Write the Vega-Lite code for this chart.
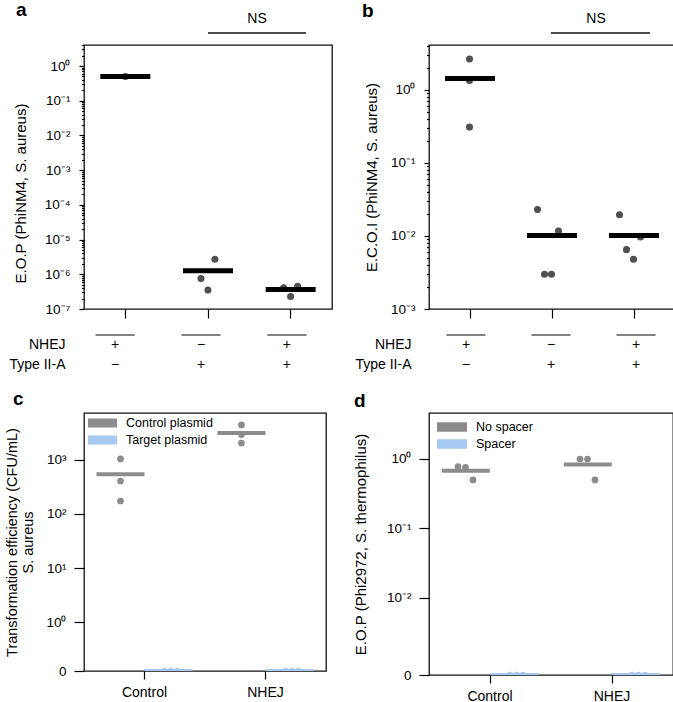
{
  "$schema": "https://vega.github.io/schema/vega-lite/v6.json",
  "autosize": {"type": "pad"},
  "padding": {"left": 3, "top": 0, "right": 0, "bottom": 0},
  "background": "white",
  "config": {
    "font": "Liberation Sans",
    "view": {"stroke": "#111111", "strokeWidth": 1.3},
    "axis": {"labelFont": "Liberation Sans", "titleFont": "Liberation Sans", "labelColor": "black", "titleColor": "black", "tickColor": "black", "tickWidth": 1.2, "titleFontWeight": "normal", "grid": false, "labelFontSize": 13.5, "titleFontSize": 15, "domain": false, "labelOverlap": false, "labelFlush": false, "labelBound": false},
    "legend": {"labelFont": "Liberation Sans", "labelColor": "black"},
    "title": {"font": "Liberation Sans", "color": "black", "fontWeight": "bold", "fontSize": 19, "anchor": "start", "frame": "group", "baseline": "alphabetic"},
    "text": {"font": "Liberation Sans"}
  },
  "datasets": {
    "panelA": [
      {"group": "NHEJ+/TypeIIA-", "rep": 2, "value": 0.5},
      {"group": "NHEJ-/TypeIIA+", "rep": 3, "value": 2.7e-6},
      {"group": "NHEJ-/TypeIIA+", "rep": 1, "value": 7.6e-7},
      {"group": "NHEJ-/TypeIIA+", "rep": 2, "value": 3.5e-7},
      {"group": "NHEJ+/TypeIIA+", "rep": 1, "value": 4.1e-7},
      {"group": "NHEJ+/TypeIIA+", "rep": 3, "value": 4.5e-7},
      {"group": "NHEJ+/TypeIIA+", "rep": 2, "value": 2.3e-7}
    ],
    "panelB": [
      {"group": "NHEJ+/TypeIIA-", "rep": 3, "value": 2.66},
      {"group": "NHEJ+/TypeIIA-", "rep": 3, "value": 1.35},
      {"group": "NHEJ+/TypeIIA-", "rep": 3, "value": 0.31},
      {"group": "NHEJ-/TypeIIA+", "rep": 1, "value": 0.023},
      {"group": "NHEJ-/TypeIIA+", "rep": 2, "value": 0.003},
      {"group": "NHEJ-/TypeIIA+", "rep": 3, "value": 0.003},
      {"group": "NHEJ-/TypeIIA+", "rep": 4, "value": 0.0117},
      {"group": "NHEJ+/TypeIIA+", "rep": 1, "value": 0.0195},
      {"group": "NHEJ+/TypeIIA+", "rep": 2, "value": 0.0065},
      {"group": "NHEJ+/TypeIIA+", "rep": 3, "value": 0.0048},
      {"group": "NHEJ+/TypeIIA+", "rep": 4, "value": 0.0097}
    ],
    "genotype": [
      {"group": "NHEJ+/TypeIIA-", "factor": "NHEJ", "sign": "+"},
      {"group": "NHEJ+/TypeIIA-", "factor": "Type II-A", "sign": "−"},
      {"group": "NHEJ-/TypeIIA+", "factor": "NHEJ", "sign": "−"},
      {"group": "NHEJ-/TypeIIA+", "factor": "Type II-A", "sign": "+"},
      {"group": "NHEJ+/TypeIIA+", "factor": "NHEJ", "sign": "+"},
      {"group": "NHEJ+/TypeIIA+", "factor": "Type II-A", "sign": "+"}
    ],
    "ns": [
      {"from": "NHEJ-/TypeIIA+", "to": "NHEJ+/TypeIIA+", "label": "NS"}
    ],
    "panelC": [
      {"strain": "Control", "plasmid": "Control plasmid", "rep": 1, "value": 1045},
      {"strain": "Control", "plasmid": "Control plasmid", "rep": 2, "value": 408},
      {"strain": "Control", "plasmid": "Control plasmid", "rep": 3, "value": 174},
      {"strain": "NHEJ", "plasmid": "Control plasmid", "rep": 1, "value": 4460},
      {"strain": "NHEJ", "plasmid": "Control plasmid", "rep": 2, "value": 2960},
      {"strain": "NHEJ", "plasmid": "Control plasmid", "rep": 3, "value": 2060},
      {"strain": "Control", "plasmid": "Target plasmid", "rep": 1, "value": 0},
      {"strain": "Control", "plasmid": "Target plasmid", "rep": 2, "value": 0},
      {"strain": "Control", "plasmid": "Target plasmid", "rep": 3, "value": 0},
      {"strain": "NHEJ", "plasmid": "Target plasmid", "rep": 1, "value": 0},
      {"strain": "NHEJ", "plasmid": "Target plasmid", "rep": 2, "value": 0},
      {"strain": "NHEJ", "plasmid": "Target plasmid", "rep": 3, "value": 0}
    ],
    "panelD": [
      {"strain": "Control", "plasmid": "No spacer", "rep": 1, "value": 0.78},
      {"strain": "Control", "plasmid": "No spacer", "rep": 2, "value": 0.76},
      {"strain": "Control", "plasmid": "No spacer", "rep": 3, "value": 0.5},
      {"strain": "NHEJ", "plasmid": "No spacer", "rep": 1, "value": 1.0},
      {"strain": "NHEJ", "plasmid": "No spacer", "rep": 2, "value": 1.0},
      {"strain": "NHEJ", "plasmid": "No spacer", "rep": 3, "value": 0.5},
      {"strain": "Control", "plasmid": "Spacer", "rep": 1, "value": 0},
      {"strain": "Control", "plasmid": "Spacer", "rep": 2, "value": 0},
      {"strain": "Control", "plasmid": "Spacer", "rep": 3, "value": 0},
      {"strain": "NHEJ", "plasmid": "Spacer", "rep": 1, "value": 0},
      {"strain": "NHEJ", "plasmid": "Spacer", "rep": 2, "value": 0},
      {"strain": "NHEJ", "plasmid": "Spacer", "rep": 3, "value": 0}
    ]
  },
  "columns": 2,
  "spacing": {"row": 6, "column": 97},
  "bounds": "flush",
  "resolve": {
    "scale": {"x": "independent", "y": "independent", "color": "independent", "xOffset": "independent"},
    "axis": {"x": "independent", "y": "independent"},
    "legend": {"color": "independent"}
  },
  "concat": [
    {
      "width": 248, "height": 12,
      "view": {"stroke": null},
      "title": {"text": "NS", "anchor": "middle", "fontWeight": "normal", "fontSize": 14, "dx": 49, "offset": 0.8},
      "data": {"name": "ns"},
      "mark": {"type": "rule", "color": "#111111", "strokeWidth": 1.4},
      "encoding": {
        "x": {"field": "from", "type": "nominal", "scale": {"type": "point", "domain": ["NHEJ+/TypeIIA-", "NHEJ-/TypeIIA+", "NHEJ+/TypeIIA+"], "padding": 0.265, "align": 0.5}, "axis": null},
        "x2": {"field": "to"},
        "y": {"datum": "line", "type": "nominal", "scale": {"type": "point", "domain": ["line"], "padding": 0.5}, "axis": null}
      }
    },
    {
      "width": 246, "height": 12,
      "view": {"stroke": null},
      "title": {"text": "NS", "anchor": "middle", "fontWeight": "normal", "fontSize": 14, "dx": 44, "offset": 0.8},
      "data": {"name": "ns"},
      "mark": {"type": "rule", "color": "#111111", "strokeWidth": 1.4},
      "encoding": {
        "x": {"field": "from", "type": "nominal", "scale": {"type": "point", "domain": ["NHEJ+/TypeIIA-", "NHEJ-/TypeIIA+", "NHEJ+/TypeIIA+"], "padding": 0.2424, "align": 0.479}, "axis": null},
        "x2": {"field": "to"},
        "y": {"datum": "line", "type": "nominal", "scale": {"type": "point", "domain": ["line"], "padding": 0.5}, "axis": null}
      }
    },
    {
      "width": 248, "height": 264,
      "title": {"text": "a", "dx": -68, "offset": 18},
      "data": {"name": "panelA"},
      "layer": [
        {
          "mark": {"type": "point", "filled": true, "size": 50, "color": "#505050", "opacity": 1},
          "encoding": {
            "x": {"field": "group", "type": "nominal", "scale": {"type": "band", "domain": ["NHEJ+/TypeIIA-", "NHEJ-/TypeIIA+", "NHEJ+/TypeIIA+"], "paddingInner": 0, "paddingOuter": 0}, "axis": {"labels": false, "title": null, "tickSize": 9}},
            "xOffset": {"field": "rep", "type": "nominal", "scale": {"type": "band", "domain": [1, 2, 3], "paddingInner": 0, "paddingOuter": 0, "range": [30.8, 51.8]}},
            "y": {"field": "value", "type": "quantitative", "scale": {"type": "log", "domain": [1e-7, 4.03], "nice": false},
              "axis": {"title": "E.O.P (PhiNM4, S. aureus)", "titlePadding": 16, "titleY": 148, "labelPadding": 9,
                "values": [1e-7, 2e-7, 3e-7, 4e-7, 5e-7, 6e-7, 7e-7, 8e-7, 9e-7, 1e-6, 2e-6, 3e-6, 4e-6, 5e-6, 6e-6, 7e-6, 8e-6, 9e-6, 1e-5, 2e-5, 3e-5, 4e-5, 5e-5, 6e-5, 7e-5, 8e-5, 9e-5, 1e-4, 2e-4, 3e-4, 4e-4, 5e-4, 6e-4, 7e-4, 8e-4, 9e-4, 0.001, 0.002, 0.003, 0.004, 0.005, 0.006, 0.007, 0.008, 0.009, 0.01, 0.02, 0.03, 0.04, 0.05, 0.06, 0.07, 0.08, 0.09, 0.1, 0.2, 0.3, 0.4, 0.5, 0.6, 0.7, 0.8, 0.9, 1, 2, 3, 4],
                "tickSize": {"condition": {"test": "abs(log(datum.value)/LN10 - round(log(datum.value)/LN10)) < 0.001", "value": 5}, "value": 2.5},
                "labelExpr": "abs(log(datum.value)/LN10 - round(log(datum.value)/LN10)) > 0.001 ? '' : '10' + (round(log(datum.value)/LN10) < 0 ? '⁻' : '') + ['⁰','¹','²','³','⁴','⁵','⁶','⁷','⁸','⁹'][abs(round(log(datum.value)/LN10))]"}}
          }
        },
        {
          "mark": {"type": "tick", "orient": "horizontal", "color": "black", "size": 50, "thickness": 5},
          "encoding": {
            "x": {"field": "group", "type": "nominal"},
            "y": {"field": "value", "aggregate": "mean", "type": "quantitative", "title": "E.O.P (PhiNM4, S. aureus)"}
          }
        }
      ]
    },
    {
      "width": 246, "height": 264,
      "title": {"text": "b", "dx": -67, "offset": 18},
      "data": {"name": "panelB"},
      "layer": [
        {
          "mark": {"type": "point", "filled": true, "size": 50, "color": "#505050", "opacity": 1},
          "encoding": {
            "x": {"field": "group", "type": "nominal", "scale": {"type": "band", "domain": ["NHEJ+/TypeIIA-", "NHEJ-/TypeIIA+", "NHEJ+/TypeIIA+"], "paddingInner": 0, "paddingOuter": 0}, "axis": {"labels": false, "title": null, "tickSize": 9}},
            "xOffset": {"field": "rep", "type": "nominal", "scale": {"type": "band", "domain": [1, 2, 3, 4], "paddingInner": 0, "paddingOuter": 0, "range": [23, 51]}},
            "y": {"field": "value", "type": "quantitative", "scale": {"type": "log", "domain": [0.001, 4.13], "nice": false},
              "axis": {"title": "E.C.O.I (PhiNM4, S. aureus)", "titlePadding": 11, "labelPadding": 9,
                "values": [0.001, 0.002, 0.003, 0.004, 0.005, 0.006, 0.007, 0.008, 0.009, 0.01, 0.02, 0.03, 0.04, 0.05, 0.06, 0.07, 0.08, 0.09, 0.1, 0.2, 0.3, 0.4, 0.5, 0.6, 0.7, 0.8, 0.9, 1, 2, 3, 4],
                "tickSize": {"condition": {"test": "abs(log(datum.value)/LN10 - round(log(datum.value)/LN10)) < 0.001", "value": 5}, "value": 2.5},
                "labelExpr": "abs(log(datum.value)/LN10 - round(log(datum.value)/LN10)) > 0.001 ? '' : '10' + (round(log(datum.value)/LN10) < 0 ? '⁻' : '') + ['⁰','¹','²','³','⁴','⁵','⁶','⁷','⁸','⁹'][abs(round(log(datum.value)/LN10))]"}}
          }
        },
        {
          "mark": {"type": "tick", "orient": "horizontal", "color": "black", "size": 50, "thickness": 5},
          "encoding": {
            "x": {"field": "group", "type": "nominal"},
            "y": {"field": "value", "aggregate": "mean", "type": "quantitative", "title": "E.C.O.I (PhiNM4, S. aureus)"}
          }
        }
      ]
    },
    {
      "width": 248, "height": 92,
      "view": {"stroke": null},
      "data": {"name": "genotype"},
      "layer": [
        {
          "mark": {"type": "text", "fontSize": 14, "color": "black"},
          "encoding": {
            "x": {"field": "group", "type": "nominal", "scale": {"type": "point", "domain": ["NHEJ+/TypeIIA-", "NHEJ-/TypeIIA+", "NHEJ+/TypeIIA+"], "padding": 0.444, "align": 0.408}, "axis": null},
            "y": {"field": "factor", "type": "nominal", "scale": {"type": "band", "domain": ["NHEJ", "Type II-A"], "paddingInner": 0, "paddingOuter": 0, "range": [20, 60]}, "axis": {"title": null, "ticks": false, "labelPadding": 19, "labelFontSize": 14}},
            "text": {"field": "sign"}
          }
        },
        {
          "transform": [{"filter": "datum.factor === 'NHEJ'"}],
          "mark": {"type": "tick", "orient": "horizontal", "size": 39, "thickness": 1.6, "color": "#111111"},
          "encoding": {
            "x": {"field": "group", "type": "nominal"},
            "y": {"field": "factor", "type": "nominal", "bandPosition": 0}
          }
        }
      ]
    },
    {
      "width": 246, "height": 92,
      "view": {"stroke": null},
      "data": {"name": "genotype"},
      "layer": [
        {
          "mark": {"type": "text", "fontSize": 14, "color": "black"},
          "encoding": {
            "x": {"field": "group", "type": "nominal", "scale": {"type": "point", "domain": ["NHEJ+/TypeIIA-", "NHEJ-/TypeIIA+", "NHEJ+/TypeIIA+"], "padding": 0.447, "align": 0.487}, "axis": null},
            "y": {"field": "factor", "type": "nominal", "scale": {"type": "band", "domain": ["NHEJ", "Type II-A"], "paddingInner": 0, "paddingOuter": 0, "range": [20, 60]}, "axis": {"title": null, "ticks": false, "labelPadding": 18, "labelFontSize": 14}},
            "text": {"field": "sign"}
          }
        },
        {
          "transform": [{"filter": "datum.factor === 'NHEJ'"}],
          "mark": {"type": "tick", "orient": "horizontal", "size": 39, "thickness": 1.6, "color": "#111111"},
          "encoding": {
            "x": {"field": "group", "type": "nominal"},
            "y": {"field": "factor", "type": "nominal", "bandPosition": 0}
          }
        }
      ]
    },
    {
      "width": 242, "height": 258,
      "title": {"text": "c", "dx": -71, "offset": 4.5},
      "data": {"name": "panelC"},
      "resolve": {"scale": {"xOffset": "independent"}},
      "layer": [
        {
          "transform": [{"filter": "datum.plasmid === 'Control plasmid'"}],
          "mark": {"type": "point", "filled": true, "size": 45, "opacity": 1, "clip": true, "invalid": null},
          "encoding": {
            "x": {"field": "strain", "type": "nominal", "scale": {"type": "band", "domain": ["Control", "NHEJ"], "paddingInner": 0, "paddingOuter": 0}, "axis": {"title": null, "labelAngle": 0, "labelFontSize": 14, "tickSize": 8, "labelPadding": 6}},
            "xOffset": {"field": "plasmid", "type": "nominal", "scale": {"type": "band", "domain": ["Control plasmid", "Target plasmid"], "paddingInner": 0, "paddingOuter": 0.26}},
            "y": {"field": "value", "type": "quantitative", "scale": {"type": "log", "domain": [0.124, 7410], "nice": false, "clamp": true},
              "axis": {"title": ["Transformation efficiency (CFU/mL)", "S. aureus"], "titleFontSize": 14.5, "titlePadding": 10, "tickSize": 10, "labelPadding": 8,
                "values": [0.124, 1, 10, 100, 1000],
                "labelExpr": "datum.value < 0.5 ? '0' : '10' + ['⁰','¹','²','³','⁴','⁵','⁶','⁷','⁸','⁹'][round(log(datum.value)/LN10)]"}},
            "color": {"field": "plasmid", "type": "nominal", "scale": {"domain": ["Control plasmid", "Target plasmid"], "range": ["#8c8c8c", "#a6c8f1"]},
              "legend": {"orient": "top-left", "title": null, "offset": 4, "padding": 0, "symbolType": "M-1,-0.31H1V0.31H-1Z", "symbolSize": 841, "symbolStrokeWidth": 0, "symbolOpacity": 1, "labelFontSize": 12.5, "labelOffset": 9, "clipHeight": 12, "rowPadding": 4}}
          }
        },
        {
          "transform": [{"filter": "datum.plasmid === 'Target plasmid'"}],
          "mark": {"type": "point", "filled": true, "size": 45, "opacity": 1, "clip": true, "invalid": null},
          "encoding": {
            "x": {"field": "strain", "type": "nominal"},
            "xOffset": {"field": "rep", "type": "nominal", "scale": {"type": "band", "domain": [1, 2, 3], "paddingInner": 0, "paddingOuter": 0, "range": [77.25, 96.75]}},
            "y": {"field": "value", "type": "quantitative"},
            "color": {"field": "plasmid", "type": "nominal"}
          }
        },
        {
          "mark": {"type": "tick", "orient": "horizontal", "size": 48, "thickness": 4, "opacity": 1, "clip": true, "invalid": null},
          "encoding": {
            "x": {"field": "strain", "type": "nominal"},
            "xOffset": {"field": "plasmid", "type": "nominal", "scale": {"type": "band", "domain": ["Control plasmid", "Target plasmid"], "paddingInner": 0, "paddingOuter": 0.26}},
            "y": {"field": "value", "aggregate": "mean", "type": "quantitative", "title": ["Transformation efficiency (CFU/mL)", "S. aureus"]},
            "color": {"field": "plasmid", "type": "nominal"}
          }
        }
      ]
    },
    {
      "width": 244, "height": 262,
      "title": {"text": "d", "dx": -75, "offset": 2},
      "data": {"name": "panelD"},
      "resolve": {"scale": {"xOffset": "independent"}},
      "layer": [
        {
          "transform": [{"filter": "datum.plasmid === 'No spacer'"}],
          "mark": {"type": "point", "filled": true, "size": 45, "opacity": 1, "clip": true, "invalid": null},
          "encoding": {
            "x": {"field": "strain", "type": "nominal", "scale": {"type": "band", "domain": ["Control", "NHEJ"], "paddingInner": 0, "paddingOuter": 0}, "axis": {"title": null, "labelAngle": 0, "labelFontSize": 14, "tickSize": 8, "labelPadding": 6}},
            "xOffset": {"field": "rep", "type": "nominal", "scale": {"type": "band", "domain": [1, 2, 3], "paddingInner": 0, "paddingOuter": 0, "range": [25.25, 47.75]}},
            "y": {"field": "value", "type": "quantitative", "scale": {"type": "log", "domain": [0.00078, 4.59], "nice": false, "clamp": true},
              "axis": {"title": "E.O.P (Phi2972, S. thermophilus)", "titlePadding": 18, "tickSize": 10, "labelPadding": 8,
                "values": [0.00078, 0.01, 0.1, 1],
                "labelExpr": "datum.value < 0.005 ? '0' : '10' + (round(log(datum.value)/LN10) < 0 ? '⁻' : '') + ['⁰','¹','²','³','⁴','⁵','⁶','⁷','⁸','⁹'][abs(round(log(datum.value)/LN10))]"}},
            "color": {"field": "plasmid", "type": "nominal", "scale": {"domain": ["No spacer", "Spacer"], "range": ["#8c8c8c", "#a6c8f1"]},
              "legend": {"orient": "top-left", "title": null, "offset": 8, "padding": 0, "symbolType": "M-1,-0.31H1V0.31H-1Z", "symbolSize": 900, "symbolStrokeWidth": 0, "symbolOpacity": 1, "labelFontSize": 12.5, "labelOffset": 9, "clipHeight": 12, "rowPadding": 4}}
          }
        },
        {
          "transform": [{"filter": "datum.plasmid === 'Spacer'"}],
          "mark": {"type": "point", "filled": true, "size": 45, "opacity": 1, "clip": true, "invalid": null},
          "encoding": {
            "x": {"field": "strain", "type": "nominal"},
            "xOffset": {"field": "rep", "type": "nominal", "scale": {"type": "band", "domain": [1, 2, 3], "paddingInner": 0, "paddingOuter": 0, "range": [77.75, 97.25]}},
            "y": {"field": "value", "type": "quantitative"},
            "color": {"field": "plasmid", "type": "nominal"}
          }
        },
        {
          "mark": {"type": "tick", "orient": "horizontal", "size": 48, "thickness": 4, "opacity": 1, "clip": true, "invalid": null},
          "encoding": {
            "x": {"field": "strain", "type": "nominal"},
            "xOffset": {"field": "plasmid", "type": "nominal", "scale": {"type": "band", "domain": ["No spacer", "Spacer"], "paddingInner": 0, "paddingOuter": 0.26}},
            "y": {"field": "value", "aggregate": "mean", "type": "quantitative", "title": "E.O.P (Phi2972, S. thermophilus)"},
            "color": {"field": "plasmid", "type": "nominal"}
          }
        }
      ]
    }
  ]
}
